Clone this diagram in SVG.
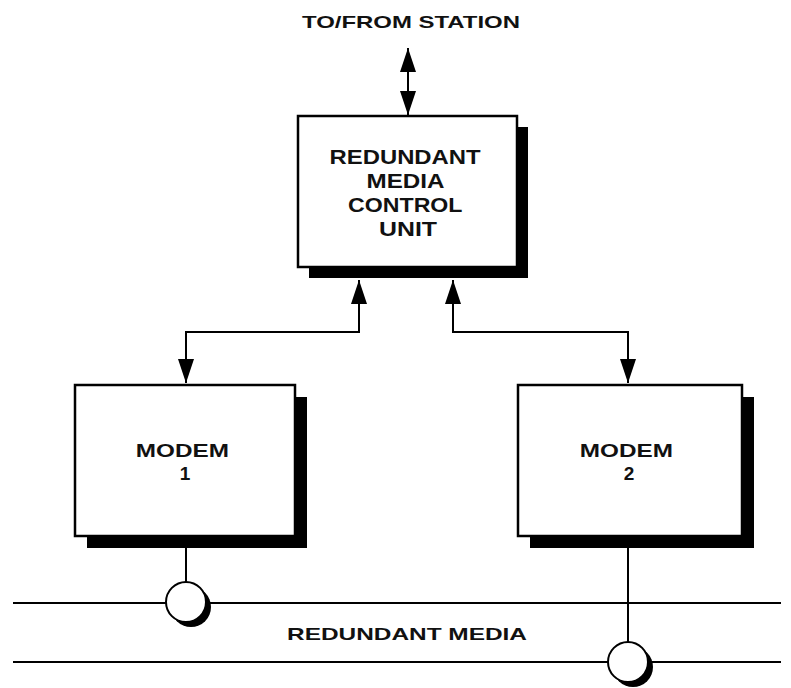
<svg xmlns="http://www.w3.org/2000/svg" width="791" height="688" viewBox="0 0 791 688">
<style>
.box{fill:#fff;stroke:#000;stroke-width:2.5}
.shadow{fill:#000}
.line{fill:none;stroke:#000;stroke-width:2}
.lbl{font-family:"Liberation Sans",Arial,sans-serif;font-weight:bold;fill:#111;text-anchor:middle}
</style>
<defs>
<marker id="ah" viewBox="0 0 24 16" refX="24" refY="8" markerWidth="24" markerHeight="16" markerUnits="userSpaceOnUse" orient="auto-start-reverse">
<path d="M0,0 L24,8 L0,16 Z" fill="#000"/>
</marker>
</defs>
<rect width="791" height="688" fill="#fff"/>
<text class="lbl" x="411" y="28" font-size="17" textLength="218" lengthAdjust="spacingAndGlyphs">TO/FROM STATION</text>
<g id="connectors">
<line class="line" x1="408" y1="48" x2="408" y2="115" marker-start="url(#ah)" marker-end="url(#ah)"/>
<polyline class="line" points="186,383 186,332 359,332 359,280" marker-start="url(#ah)" marker-end="url(#ah)"/>
<polyline class="line" points="628,383 628,332 453,332 453,280" marker-start="url(#ah)" marker-end="url(#ah)"/>
<line class="line" x1="186" y1="537" x2="186" y2="583"/>
<line class="line" x1="628" y1="537" x2="628" y2="643"/>
<line class="line" x1="13" y1="603" x2="781" y2="603"/>
<line class="line" x1="13" y1="662" x2="781" y2="662"/>
</g>
<g id="rmcu">
<rect class="shadow" x="309" y="127" width="219" height="151"/>
<rect class="box" x="298" y="116" width="219" height="151"/>
<text class="lbl" font-size="21">
<tspan x="408" y="164" textLength="151" lengthAdjust="spacingAndGlyphs">REDUNDANT</tspan>
<tspan x="408" y="188" textLength="77" lengthAdjust="spacingAndGlyphs">MEDIA</tspan>
<tspan x="408" y="212" textLength="114" lengthAdjust="spacingAndGlyphs">CONTROL</tspan>
<tspan x="408" y="236" textLength="58" lengthAdjust="spacingAndGlyphs">UNIT</tspan>
</text>
</g>
<g id="modem1">
<rect class="shadow" x="87" y="397" width="220" height="151"/>
<rect class="box" x="75" y="385" width="220" height="151"/>
<text class="lbl" font-size="19">
<tspan x="185" y="457" textLength="93" lengthAdjust="spacingAndGlyphs">MODEM</tspan>
<tspan x="185" y="480">1</tspan>
</text>
</g>
<g id="modem2">
<rect class="shadow" x="530" y="397" width="224" height="151"/>
<rect class="box" x="518" y="385" width="224" height="151"/>
<text class="lbl" font-size="19">
<tspan x="629" y="457" textLength="93" lengthAdjust="spacingAndGlyphs">MODEM</tspan>
<tspan x="629" y="480">2</tspan>
</text>
</g>
<g id="tap1">
<circle cx="191" cy="607" r="20" fill="#000"/>
<circle cx="186" cy="602" r="20" fill="#fff" stroke="#000" stroke-width="2"/>
</g>
<g id="tap2">
<circle cx="633" cy="667" r="20" fill="#000"/>
<circle cx="628" cy="662" r="20" fill="#fff" stroke="#000" stroke-width="2"/>
</g>
<text class="lbl" x="407" y="640" font-size="17" textLength="240" lengthAdjust="spacingAndGlyphs">REDUNDANT MEDIA</text>
</svg>
